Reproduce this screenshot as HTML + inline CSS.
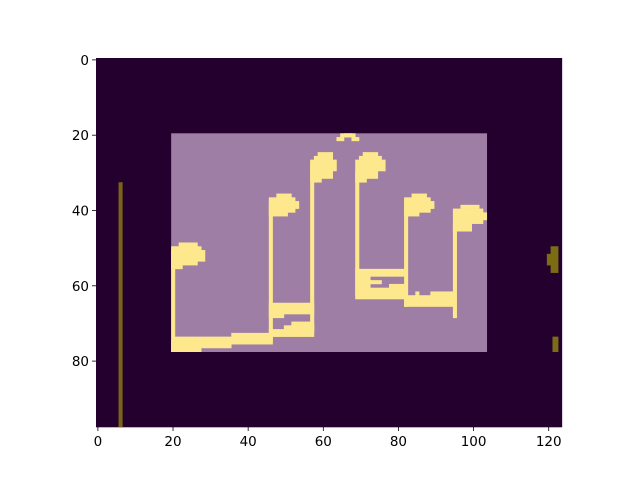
<!DOCTYPE html>
<html><head><meta charset="utf-8"><style>
body{margin:0;background:#fff;width:640px;height:480px;overflow:hidden}
svg{display:block;font-family:"DejaVu Sans","Liberation Sans",sans-serif}
</style></head><body>
<svg id="chart" width="640" height="480">
<g id="img"></g>
<g id="axes"></g>
</svg>
<script>
// Image grid dimensions (columns, rows)
const nCols = 124;
const nRows = 98;
// Regions: [col0, row0, col1, row1] in cell units
const overlayBox = [20, 20, 104, 78];
const brownLine = [[6, 33, 7, 98]];
const oliveBlobs = [[121, 50, 123, 57], [120, 52, 121, 55], [121.5, 74, 123, 78]];
const noteCells = [
  // note 1
  [20, 51, 27, 55], [21, 50, 28, 54], [22, 49, 27, 50], [28, 51, 29, 54], [20, 50, 21, 78], [20, 55, 23, 56],
  // bottom beam
  [20, 75, 28, 78], [21, 74, 47, 76], [36, 73, 46, 75], [28, 75, 36, 77],
  // note 2
  [46, 37, 53, 41], [46, 41, 51, 42], [48, 36, 52, 37], [53, 38, 54, 40], [46, 38, 47, 75],
  // beam 2
  [46, 65, 58, 68], [46, 68, 50, 69], [52, 70, 58, 72], [46, 72, 58, 74], [50, 71, 58, 72],
  // note 3
  [57, 27, 63, 32], [57, 32, 60, 33], [59, 25, 63, 26], [58, 26, 63, 27], [63, 27, 64, 30], [57, 28, 58, 73],
  // small arc
  [64, 21, 66, 22], [66, 20, 68, 21], [68, 21, 70, 22], [65, 20, 69, 21],
  // note 4
  [69, 27, 75, 32], [69, 32, 72, 33], [71, 25, 75, 26], [70, 26, 76, 27], [75, 27, 77, 30], [69, 30, 70, 64],
  // beam 4
  [69, 56, 82, 58], [69, 58, 73, 63], [70, 59, 76, 60], [73, 61, 78, 62], [70, 62, 82, 64], [78, 60, 82, 62],
  // note 5
  [82, 37, 89, 41], [82, 41, 86, 42], [84, 36, 88, 37], [89, 38, 90, 40], [82, 38, 83, 66],
  [82, 63, 95, 66], [89, 62, 95, 63], [85, 62, 86, 63],
  // note 6
  [95, 40, 103, 44], [95, 44, 100, 46], [97, 39, 102, 40], [103, 41, 104, 43], [95, 44, 96, 69]
];
const xTicks = [0, 20, 40, 60, 80, 100, 120];
const yTicks = [0, 20, 40, 60, 80];

const x0 = 96, y0 = 58, sx = 3.757, sy = (427 - 58) / nRows;
const ex = c => x0 + c * sx;   // cell edge -> px
const ey = r => y0 + r * sy;
const NS = "http://www.w3.org/2000/svg";
const img = document.getElementById('img');
const axes = document.getElementById('axes');
function rect(b, fill, name, parent) {
  const r = document.createElementNS(NS, 'rect');
  r.setAttribute('x', ex(b[0])); r.setAttribute('y', ey(b[1]));
  r.setAttribute('width', ex(b[2]) - ex(b[0]) + 0.3); r.setAttribute('height', ey(b[3]) - ey(b[1]) + 0.3);
  r.setAttribute('fill', fill);
  
  
  (parent || img).appendChild(r);
}
rect([0, 0, nCols, nRows], '#23002e', 'image-background');
rect(overlayBox, '#9f7ea5', 'overlay-box');
brownLine.forEach(b => rect(b, '#7c631b', 'brown-line'));
oliveBlobs.forEach(b => rect(b, '#7c6c14', 'olive-blob'));
noteCells.forEach(b => rect(b, '#fde88e', 'note-shape'));

function line(x1, y1, x2, y2, name) {
  const l = document.createElementNS(NS, 'line');
  l.setAttribute('x1', x1); l.setAttribute('y1', y1); l.setAttribute('x2', x2); l.setAttribute('y2', y2);
  l.setAttribute('stroke', '#000'); l.setAttribute('stroke-width', '0.8');
  
  
  axes.appendChild(l);
}
function text(x, y, s, anchor, name) {
  const t = document.createElementNS(NS, 'text');
  t.setAttribute('x', x); t.setAttribute('y', y); t.setAttribute('text-anchor', anchor);
  t.setAttribute('font-size', '13.5'); t.setAttribute('fill', '#000');
  t.textContent = s;
  
  
  axes.appendChild(t);
}
xTicks.forEach(v => {
  const x = ex(v + 0.5);
  line(x, ey(nRows), x, ey(nRows) + 4, 'x-tick');
  text(x, ey(nRows) + 19, String(v), 'middle', 'x-tick-label');
});
yTicks.forEach(v => {
  const y = ey(v + 0.5);
  line(x0 - 4, y, x0, y, 'y-tick');
  text(x0 - 7, y + 5, String(v), 'end', 'y-tick-label');
});
</script>
</body></html>
